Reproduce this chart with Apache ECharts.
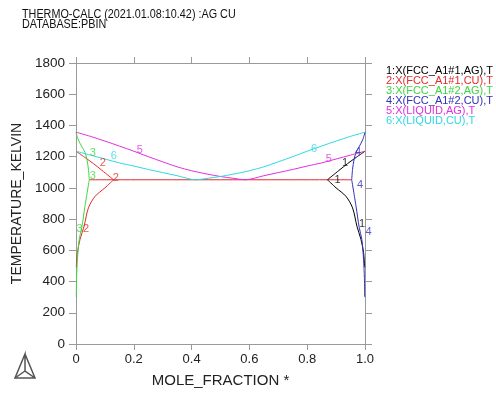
<!DOCTYPE html>
<html><head><meta charset="utf-8">
<script src="https://cdn.jsdelivr.net/npm/echarts@6/dist/echarts.min.js"></script>
<style>html,body{margin:0;padding:0;background:#fff}#c{width:496px;height:393px}</style>
</head><body><div id="c"></div>
<script>
const xTickLabels = ['0','0.2','0.4','0.6','0.8','1.0'];
const titleLines = ['THERMO-CALC (2021.01.08:10.42) :AG CU','DATABASE:PBIN'];
const legendLabels = ['1:X(FCC_A1#1,AG),T','2:X(FCC_A1#1,CU),T','3:X(FCC_A1#2,AG),T','4:X(FCC_A1#2,CU),T','5:X(LIQUID,AG),T','6:X(LIQUID,CU),T'];
const seriesColors = ['#000000','#e32b2b','#3fd63f','#3030b8','#e030e0','#30d8e3'];

// 1: X(FCC_A1#1,AG)
const c1Solidus = [[1.0,1235],[0.97,1196],[0.94,1156],[0.91,1112],[0.87,1052]];
const c1Solvus  = [[0.87,1052],[0.90,1000],[0.934,946],[0.957,872],[0.972,755],[0.986,670],[0.995,587],[0.999,491]];
// 2: X(FCC_A1#1,CU)
const c2Solidus = [[0.0,1235],[0.03,1196],[0.06,1156],[0.09,1112],[0.13,1052]];
const c2Solvus  = [[0.13,1052],[0.10,1000],[0.066,946],[0.043,872],[0.028,755],[0.014,670],[0.005,587],[0.001,491]];
// 3: X(FCC_A1#2,AG)
const c3Solidus = [[0.0,1357],[0.008,1308],[0.02,1265],[0.031,1228],[0.038,1180],[0.043,1120],[0.046,1052]];
const c3Solvus  = [[0.046,1052],[0.031,882],[0.02,746],[0.011,670],[0.005,542],[0.002,420],[0.001,300]];
// 4: X(FCC_A1#2,CU)
const c4Solidus = [[1.0,1357],[0.992,1308],[0.98,1265],[0.969,1228],[0.962,1180],[0.957,1120],[0.954,1052]];
const c4Solvus  = [[0.954,1052],[0.969,882],[0.98,746],[0.989,670],[0.995,542],[0.998,420],[0.999,300]];
// 5: X(LIQUID,AG)
const c5Liquid = [[0.0,1357],[0.05,1330],[0.10,1300],[0.15,1268],[0.20,1235],[0.25,1200],[0.30,1167],[0.35,1135],[0.40,1110],[0.45,1090],[0.50,1073],[0.55,1060],[0.585,1052],
                  [0.65,1078],[0.70,1098],[0.75,1118],[0.80,1140],[0.85,1160],[0.90,1185],[0.95,1210],[1.0,1235]];
// 6: X(LIQUID,CU)
const c6Liquid = [[0.0,1235],[0.05,1210],[0.10,1185],[0.15,1160],[0.20,1140],[0.25,1118],[0.30,1098],[0.35,1078],[0.415,1052],
                  [0.45,1060],[0.50,1073],[0.55,1090],[0.60,1110],[0.65,1135],[0.70,1167],[0.75,1200],[0.80,1235],[0.85,1268],[0.90,1300],[0.95,1330],[1.0,1357]];
// eutectic isotherm
const eutectic = [[0.046,1052],[0.954,1052]];

// curve number labels
const labels1 = [[0.931,1161,'1'],[0.905,1053,'1'],[0.99,772,'1']];
const labels2 = [[0.093,1161,'2'],[0.138,1062,'2'],[0.035,740,'2']];
const labels3 = [[0.058,1225,'3'],[0.058,1078,'3'],[0.012,737,'3']];
const labels4 = [[0.976,1232,'4'],[0.983,1021,'4'],[1.012,715,'4']];
const labels5 = [[0.221,1244,'5'],[0.875,1187,'5']];
const labels6 = [[0.131,1203,'6'],[0.824,1251,'6']];

const lineSeries = (data, ci) => ({
  type:'line', data, showSymbol:false, smooth:0.3, silent:true,
  lineStyle:{color:seriesColors[ci], width:1}, z:2
});
const labelSeries = (data, ci) => ({
  type:'scatter', data, symbolSize:0, clip:false, silent:true, z:5,
  label:{show:true, position:'inside', formatter:p=>p.data[2], color:seriesColors[ci], fontSize:11, fontFamily:'Liberation Sans'}
});

const chart = echarts.init(document.getElementById('c'), null, {renderer:'canvas'});
const axisCol = '#9a9a9a';
const font = 'Liberation Sans';

const graphics = [];
graphics.push({type:'text', x:22, y:9, scaleX:0.9, style:{text:titleLines[0], fontSize:12, fontFamily:font, fill:'#111'}});
graphics.push({type:'text', x:22, y:19, scaleX:0.9, style:{text:titleLines[1], fontSize:12, fontFamily:font, fill:'#111'}});
legendLabels.forEach((t,i)=>{
  graphics.push({type:'text', left:386, top:65 + i*10, style:{text:t, fontSize:11, fontFamily:font, fill:seriesColors[i]}});
});
graphics.push({type:'polyline', shape:{points:[[25,354],[35,378],[15,378],[25,354],[25,371],[35,378]]}, style:{stroke:'#555', lineWidth:1.5, fill:null}});
graphics.push({type:'polyline', shape:{points:[[25,371],[15,378]]}, style:{stroke:'#555', lineWidth:1.5, fill:null}});

chart.setOption({
  animation:false,
  backgroundColor:'#fff',
  grid:{left:76, right:131, top:63, bottom:48, containLabel:false},
  graphic:graphics,
  xAxis:[
    {type:'value', min:0, max:1, interval:0.2, position:'bottom',
     axisLine:{show:true, onZero:false, lineStyle:{color:axisCol}},
     axisTick:{show:true, length:6, lineStyle:{color:axisCol}},
     axisLabel:{formatter:v=>xTickLabels[Math.round(v/0.2)], color:'#222', fontSize:13, fontFamily:font, margin:9},
     splitLine:{show:false},
     name:'MOLE_FRACTION *', nameLocation:'middle', nameGap:29,
     nameTextStyle:{fontSize:15, color:'#222', fontFamily:font}},
    {type:'value', min:0, max:1, interval:0.2, position:'top',
     axisLine:{show:true, onZero:false, lineStyle:{color:axisCol}},
     axisTick:{show:true, length:6, lineStyle:{color:axisCol}},
     axisLabel:{show:false}, splitLine:{show:false}}
  ],
  yAxis:[
    {type:'value', min:0, max:1800, interval:200, position:'left',
     axisLine:{show:true, onZero:false, lineStyle:{color:axisCol}},
     axisTick:{show:true, length:7, lineStyle:{color:axisCol}},
     axisLabel:{formatter:v=>String(v), color:'#222', fontSize:13.5, fontFamily:font, margin:11},
     splitLine:{show:false},
     name:'TEMPERATURE_KELVIN', nameLocation:'middle', nameGap:39,
     nameTextStyle:{fontSize:14, color:'#222', fontFamily:font}},
    {type:'value', min:0, max:1800, interval:200, position:'right',
     axisLine:{show:true, onZero:false, lineStyle:{color:axisCol}},
     axisTick:{show:true, length:7, lineStyle:{color:axisCol}},
     axisLabel:{show:false}, splitLine:{show:false}}
  ],
  series:[
    lineSeries(eutectic,1),
    lineSeries(c1Solidus,0), lineSeries(c1Solvus,0),
    lineSeries(c2Solidus,1), lineSeries(c2Solvus,1),
    lineSeries(c3Solidus,2), lineSeries(c3Solvus,2),
    lineSeries(c4Solidus,3), lineSeries(c4Solvus,3),
    lineSeries(c5Liquid,4), lineSeries(c6Liquid,5),
    labelSeries(labels1,0), labelSeries(labels2,1), labelSeries(labels3,2),
    labelSeries(labels4,3), labelSeries(labels5,4), labelSeries(labels6,5)
  ]
});
</script></body></html>
